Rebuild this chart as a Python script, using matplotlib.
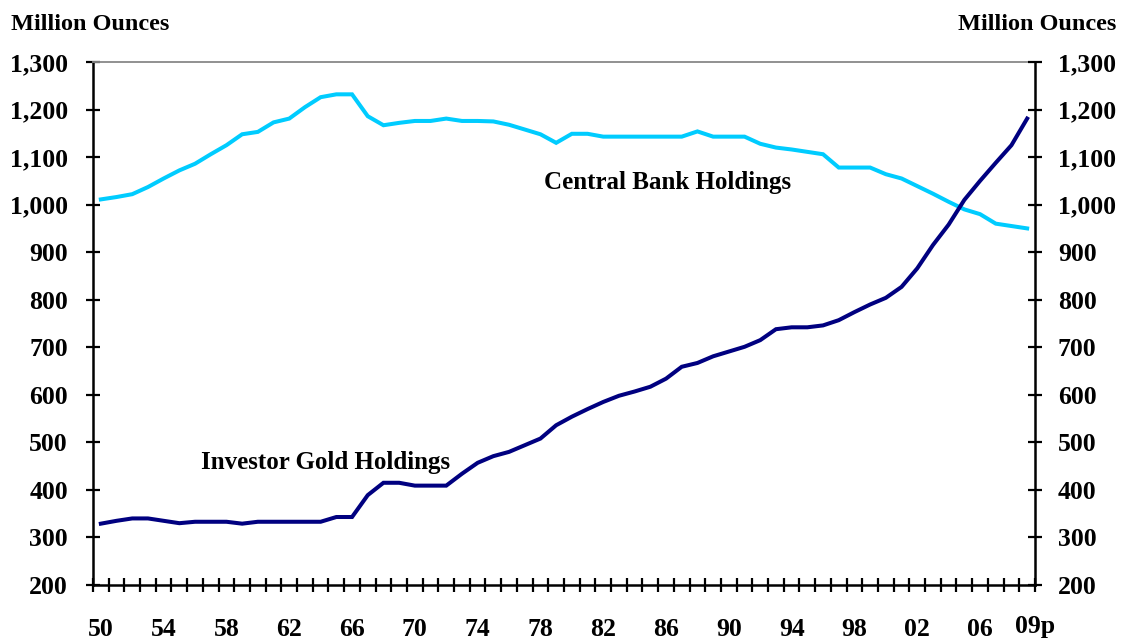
import matplotlib
matplotlib.use("Agg")
import matplotlib.pyplot as plt
import matplotlib.transforms as mtransforms
from matplotlib.ticker import FixedLocator, FuncFormatter

years = list(range(1950, 2010))
central_bank = [1011, 1016, 1022, 1037, 1055, 1072, 1086, 1106, 1125, 1148,
                1153, 1173, 1181, 1205, 1226, 1232, 1232, 1186, 1167, 1172,
                1176, 1176, 1181, 1176, 1176, 1175, 1168, 1158, 1148, 1130,
                1149, 1149, 1143, 1143, 1143, 1143, 1143, 1143, 1154, 1143,
                1143, 1143, 1128, 1120, 1116, 1111, 1106, 1078, 1078, 1078,
                1064, 1055, 1039, 1023, 1006, 990, 980, 960, 955, 950]
investor = [329, 335, 340, 340, 335, 330, 333, 333, 333, 329,
            333, 333, 333, 333, 333, 343, 343, 389, 415, 415,
            409, 409, 409, 434, 457, 471, 480, 494, 508, 536,
            554, 570, 585, 598, 607, 617, 634, 659, 667, 681,
            691, 701, 715, 738, 742, 742, 746, 757, 774, 790,
            804, 827, 866, 915, 958, 1010, 1050, 1088, 1125, 1181]
label_years = [1950, 1954, 1958, 1962, 1966, 1970, 1974, 1978, 1982, 1986,
               1990, 1994, 1998, 2002, 2006, 2009]
label_text = ["50", "54", "58", "62", "66", "70", "74", "78", "82", "86",
              "90", "94", "98", "02", "06", "09p"]
y_ticks = [200, 300, 400, 500, 600, 700, 800, 900, 1000, 1100, 1200, 1300]

plt.rcParams['font.family'] = ['Liberation Serif', 'DejaVu Serif']
plt.rcParams['font.weight'] = 'bold'

TICK_FS = 18.5
fig = plt.figure(figsize=(11.24, 6.42), dpi=100)
ax = fig.add_axes([93/1124, 1-585/642, (1035-93)/1124, (585-62)/642])

ax.plot(years, central_bank, color='#00CCFF', lw=2.9, solid_joinstyle='miter', zorder=3)
ax.plot(years, investor, color='#000080', lw=2.9, solid_joinstyle='miter', zorder=3)

ax.set_xlim(1949.5, 2009.5)
ax.set_ylim(200, 1300)

ax.xaxis.set_major_locator(FixedLocator(label_years))
ax.set_xticklabels(label_text)
ax.xaxis.set_minor_locator(FixedLocator([1949.5 + k for k in range(61)]))
ax.tick_params(axis='x', which='major', length=0, pad=24, labelsize=TICK_FS)
ax.tick_params(axis='x', which='minor', direction='inout', length=10, width=1.6)

fmt = FuncFormatter(lambda v, p: f"{int(v):,}")
ax.yaxis.set_major_locator(FixedLocator(y_ticks))
ax.yaxis.set_major_formatter(fmt)
ax.tick_params(axis='y', direction='inout', length=10, width=1.6,
               labelsize=TICK_FS, pad=13, right=False, labelright=False)

ax2 = ax.twinx()
ax2.set_ylim(200, 1300)
ax2.yaxis.set_major_locator(FixedLocator(y_ticks))
ax2.yaxis.set_major_formatter(fmt)
ax2.tick_params(axis='y', direction='inout', length=10, width=1.6,
                labelsize=TICK_FS, pad=11.5)
for s in ['top', 'left', 'bottom']:
    ax2.spines[s].set_visible(False)
ax2.spines['right'].set_linewidth(1.8)

for s in ['left', 'bottom']:
    ax.spines[s].set_linewidth(1.8)
ax.spines['top'].set_color('#888888')
ax.spines['top'].set_linewidth(1.3)
ax.spines['right'].set_visible(False)

for lab in ax.get_xticklabels() + ax.get_yticklabels() + ax2.get_yticklabels():
    lab.set_fontweight('bold')

# nudge the last label ("09p") slightly right/up as in the original
last = ax.get_xticklabels()[-1]
last.set_transform(last.get_transform() +
                   mtransforms.ScaledTranslation(8/100, 3/100, fig.dpi_scale_trans))

ax.text(1986.1, 1046, "Central Bank Holdings", ha='center', va='center',
        fontsize=18, fontweight='bold')
ax.text(1964.3, 457, "Investor Gold Holdings", ha='center', va='center',
        fontsize=18, fontweight='bold')

fig.text(11/1124, 1-30/642, "Million Ounces", ha='left', va='baseline',
         fontsize=17.5, fontweight='bold')
fig.text(1116/1124, 1-30/642, "Million Ounces", ha='right', va='baseline',
         fontsize=17.5, fontweight='bold')

fig.savefig("out.png", dpi=100)
